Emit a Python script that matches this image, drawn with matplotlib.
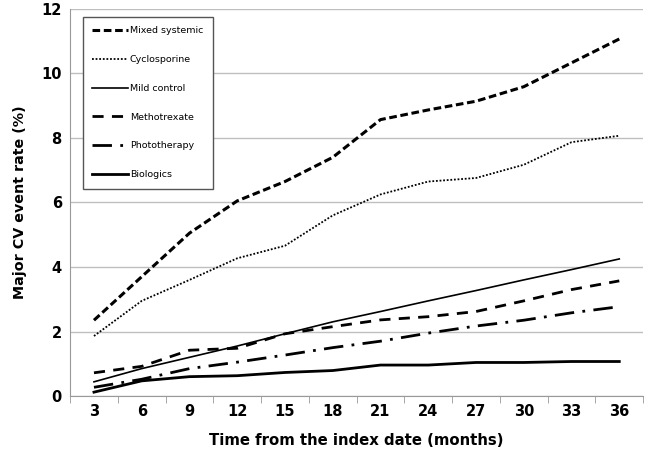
import numpy as np
import matplotlib.pyplot as plt

months = [3, 6, 9, 12, 15, 18, 21, 24, 27, 30, 33, 36]
mixed_systemic = [2.35, 3.7, 5.05, 6.05, 6.65, 7.4, 8.57, 8.87, 9.14, 9.59, 10.33, 11.07]
cyclosporine = [1.86, 2.95, 3.6, 4.27, 4.66, 5.6, 6.25, 6.65, 6.76, 7.17, 7.87, 8.07]
mild_control = [0.44, 0.85, 1.2, 1.55, 1.93, 2.3, 2.62, 2.95, 3.27, 3.6, 3.92, 4.25]
methotrexate = [0.72, 0.92, 1.42, 1.48, 1.93, 2.15, 2.36, 2.46, 2.62, 2.95, 3.3, 3.57]
phototherapy = [0.27, 0.52, 0.85, 1.05, 1.27, 1.5, 1.7, 1.95, 2.17, 2.35, 2.58, 2.77]
biologics = [0.12, 0.47, 0.6, 0.63, 0.73, 0.79, 0.96, 0.96, 1.04, 1.04, 1.07, 1.07]

series = [
    ('Mixed systemic', mixed_systemic, dict(lw=2.2, dashes=(2.5, 1.2))),
    ('Cyclosporine', cyclosporine, dict(lw=1.3, dashes=(1, 1))),
    ('Mild control', mild_control, dict(lw=1.2, ls='-')),
    ('Methotrexate', methotrexate, dict(lw=2.0, dashes=(4, 3))),
    ('Phototherapy', phototherapy, dict(lw=2.0, dashes=(7, 3, 1, 3))),
    ('Biologics', biologics, dict(lw=2.0, ls='-')),
]

plt.rcParams['font.family'] = ['DejaVu Sans']

fig = plt.figure(figsize=(6.49, 4.49), dpi=100)
ax = fig.add_axes([0.108, 0.118, 0.883, 0.862])

x = np.arange(len(months))
for name, vals, style in series:
    ax.plot(x, vals, color='black', label=name, **style)

ax.set_xlim(-0.5, len(months) - 0.5)
ax.set_ylim(0, 12)
ax.set_yticks(range(0, 13, 2))
ax.set_xticks(x)
ax.set_xticklabels([str(m) for m in months], fontweight='bold', fontsize=10.5)
ax.set_xticks(np.arange(-0.5, len(months), 1), minor=True)
ax.tick_params(axis='x', which='major', length=0, pad=6)
ax.tick_params(axis='x', which='minor', length=5, color='#999999', direction='out')
ax.tick_params(axis='y', length=0, pad=6)
for lab in ax.get_yticklabels():
    lab.set_fontweight('bold')
    lab.set_fontsize(10.5)

ax.grid(axis='y', color='#bfbfbf', lw=1)
ax.set_axisbelow(True)
for side in ['top', 'right']:
    ax.spines[side].set_visible(False)
ax.spines['left'].set_color('#999999')
ax.spines['bottom'].set_color('#999999')

ax.set_xlabel('Time from the index date (months)', fontweight='bold', fontsize=10.7, labelpad=10)
ax.set_ylabel('Major CV event rate (%)', fontweight='bold', fontsize=10.3, labelpad=10)

leg = ax.legend(loc='upper left', bbox_to_anchor=(0.022, 0.98), fontsize=6.8,
                handlelength=3.8, handletextpad=0.2, labelspacing=2.1,
                borderpad=1.0, fancybox=False, framealpha=1, borderaxespad=0)
leg.get_frame().set_edgecolor('#555555')
leg.get_frame().set_linewidth(1.0)

fig.savefig('out.png', dpi=100)
